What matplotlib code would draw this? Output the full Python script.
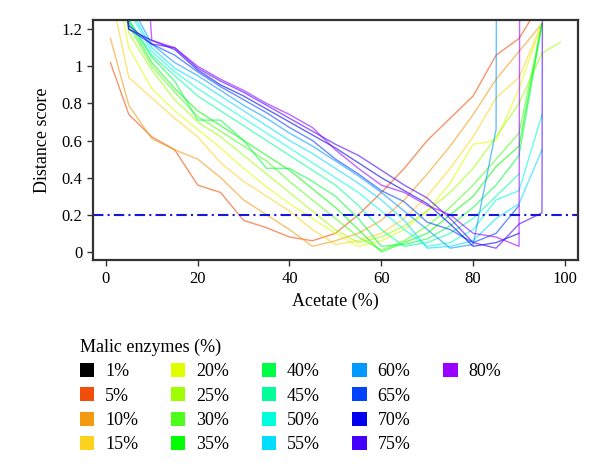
import numpy as np
import matplotlib
matplotlib.use("Agg")
import matplotlib.pyplot as plt
from matplotlib.patches import Patch

plt.rcParams['font.family'] = ['Liberation Serif', 'DejaVu Serif']

nan = np.nan
# acetate grid (%)
acetate = [1, 5, 10, 15, 20, 25, 30, 35, 40, 45, 50, 55, 60, 65, 70, 75, 80, 85, 90, 95, 99]

# distance score per malic enzyme level (values off the top are clipped by the axes)
me01 = [nan] * 21
me05 = [1.02, 0.74, 0.62, 0.55, 0.36, 0.32, 0.17, 0.13, 0.08, 0.06, 0.10, 0.20, 0.32, 0.45, 0.60, 0.72, 0.84, 1.06, 1.15, 1.35, nan]
me10 = [1.15, 0.79, 0.61, 0.55, 0.50, 0.40, 0.28, 0.20, 0.12, 0.03, 0.06, 0.10, 0.17, 0.28, 0.42, 0.57, 0.74, 0.93, 1.08, 1.23, nan]
me15 = [1.40, 0.94, 0.83, 0.72, 0.62, 0.48, 0.38, 0.30, 0.22, 0.12, 0.04, 0.06, 0.10, 0.18, 0.30, 0.45, 0.62, 0.83, 0.94, 1.23, nan]
me20 = [1.60, 1.10, 0.88, 0.76, 0.66, 0.56, 0.45, 0.35, 0.26, 0.18, 0.10, 0.03, 0.06, 0.12, 0.22, 0.37, 0.58, 0.60, 0.88, 1.23, nan]
me25 = [1.80, 1.18, 0.98, 0.82, 0.70, 0.62, 0.52, 0.42, 0.32, 0.22, 0.12, 0.05, 0.08, 0.14, 0.22, 0.32, 0.45, 0.62, 0.80, 1.07, 1.13]
me30 = [2.00, 1.22, 1.00, 0.86, 0.73, 0.65, 0.57, 0.49, 0.38, 0.28, 0.18, 0.08, 0.01, 0.06, 0.14, 0.24, 0.36, 0.50, 0.64, 1.23, nan]
me35 = [2.20, 1.24, 1.02, 0.88, 0.76, 0.68, 0.60, 0.52, 0.44, 0.34, 0.24, 0.12, 0.00, 0.05, 0.10, 0.20, 0.30, 0.46, 0.57, 1.23, nan]
me40 = [2.40, 1.25, 1.05, 0.92, 0.71, 0.71, 0.60, 0.45, 0.45, 0.38, 0.30, 0.18, 0.03, 0.04, 0.07, 0.14, 0.24, 0.36, 0.52, 1.23, nan]
me45 = [2.60, 1.25, 1.06, 0.95, 0.84, 0.76, 0.68, 0.60, 0.52, 0.44, 0.36, 0.25, 0.12, 0.03, 0.05, 0.10, 0.18, 0.30, 0.42, nan, nan]
me50 = [3.00, 1.30, 1.08, 0.97, 0.88, 0.80, 0.72, 0.64, 0.56, 0.48, 0.40, 0.32, 0.22, 0.12, 0.03, 0.05, 0.12, 0.28, 0.33, 0.74, nan]
me55 = [3.00, 1.32, 1.10, 0.99, 0.92, 0.84, 0.76, 0.68, 0.60, 0.53, 0.45, 0.37, 0.28, 0.17, 0.02, 0.03, 0.06, 0.18, 0.26, 0.55, nan]
me60 = [3.00, 1.35, 1.12, 1.02, 0.95, 0.87, 0.79, 0.72, 0.64, 0.57, 0.49, 0.41, 0.32, 0.22, 0.12, 0.02, 0.04, 0.66, 50.0, nan, nan]
me65 = [2.00, 1.20, 1.12, 1.06, 0.97, 0.89, 0.82, 0.75, 0.67, 0.60, 0.50, 0.42, 0.33, 0.27, 0.16, 0.12, 0.05, 0.10, 0.25, nan, nan]
me70 = [2.00, 1.20, 1.14, 1.09, 0.98, 0.90, 0.84, 0.77, 0.70, 0.63, 0.56, 0.48, 0.40, 0.33, 0.26, 0.15, 0.03, 0.05, 0.10, nan, nan]
me75 = [2.00, 1.22, 1.12, 1.10, 0.99, 0.92, 0.86, 0.79, 0.72, 0.65, 0.58, 0.52, 0.44, 0.36, 0.29, 0.18, 0.05, 0.02, 0.15, 0.21, 50.0]
me80 = [5.00, 3.00, 1.14, 1.10, 1.00, 0.93, 0.87, 0.80, 0.74, 0.67, 0.55, 0.45, 0.36, 0.32, 0.25, 0.20, 0.10, 0.08, 0.03, 50.0, nan]

labels = ['1%', '5%', '10%', '15%', '20%', '25%', '30%', '35%', '40%',
          '45%', '50%', '55%', '60%', '65%', '70%', '75%', '80%']
colors = ['#000000', '#f04e0a', '#f39a12', '#ffd21e', '#dfff00', '#9eff00',
          '#4dff1a', '#00ff00', '#00ff44', '#00ff99', '#00ffdd', '#00ddff',
          '#0099ff', '#0044ff', '#0000ee', '#4400ff', '#9900ff']
series = [me01, me05, me10, me15, me20, me25, me30, me35, me40,
          me45, me50, me55, me60, me65, me70, me75, me80]

fig = plt.figure(figsize=(6, 4.74), dpi=100)
ax = fig.add_axes([0.155, 0.451, 0.808, 0.507])

for ys, c in zip(series, colors):
    ax.plot(acetate, ys, color=c, lw=1.0, alpha=0.6)

ax.axhline(0.2, color='#1818dd', lw=1.5, linestyle=(0, (5, 2, 1, 2)))

ax.set_xlim(-2.8, 102.8)
ax.set_ylim(-0.045, 1.25)
ax.set_xticks([0, 20, 40, 60, 80, 100])
ax.set_yticks([0, 0.2, 0.4, 0.6, 0.8, 1.0, 1.2])
ax.set_yticklabels(['0', '0.2', '0.4', '0.6', '0.8', '1', '1.2'])
ax.tick_params(direction='out', length=4, width=1, labelsize=12, color='#333333')
for s in ax.spines.values():
    s.set_color('#333333')
    s.set_linewidth(1.6)
ax.set_xlabel('Acetate (%)', fontsize=13)
ax.set_ylabel('Distance score', fontsize=13, labelpad=8)

# legend: 4 rows per column, last column holds only 80%
handles = [Patch(facecolor=c, edgecolor='none') for c in colors]
blank = Patch(facecolor='none', edgecolor='none')
handles += [blank] * 3
leg_labels = labels + [''] * 3
fig.legend(handles, leg_labels, title='Malic enzymes (%)', ncol=5, loc='upper left',
           bbox_to_anchor=(0.118, 0.305), frameon=False, fontsize=13,
           title_fontsize=13, alignment='left', handlelength=0.8, handleheight=0.8,
           handletextpad=0.6, columnspacing=1.8, labelspacing=0.4, borderpad=0)

fig.savefig('out.png', dpi=100)
